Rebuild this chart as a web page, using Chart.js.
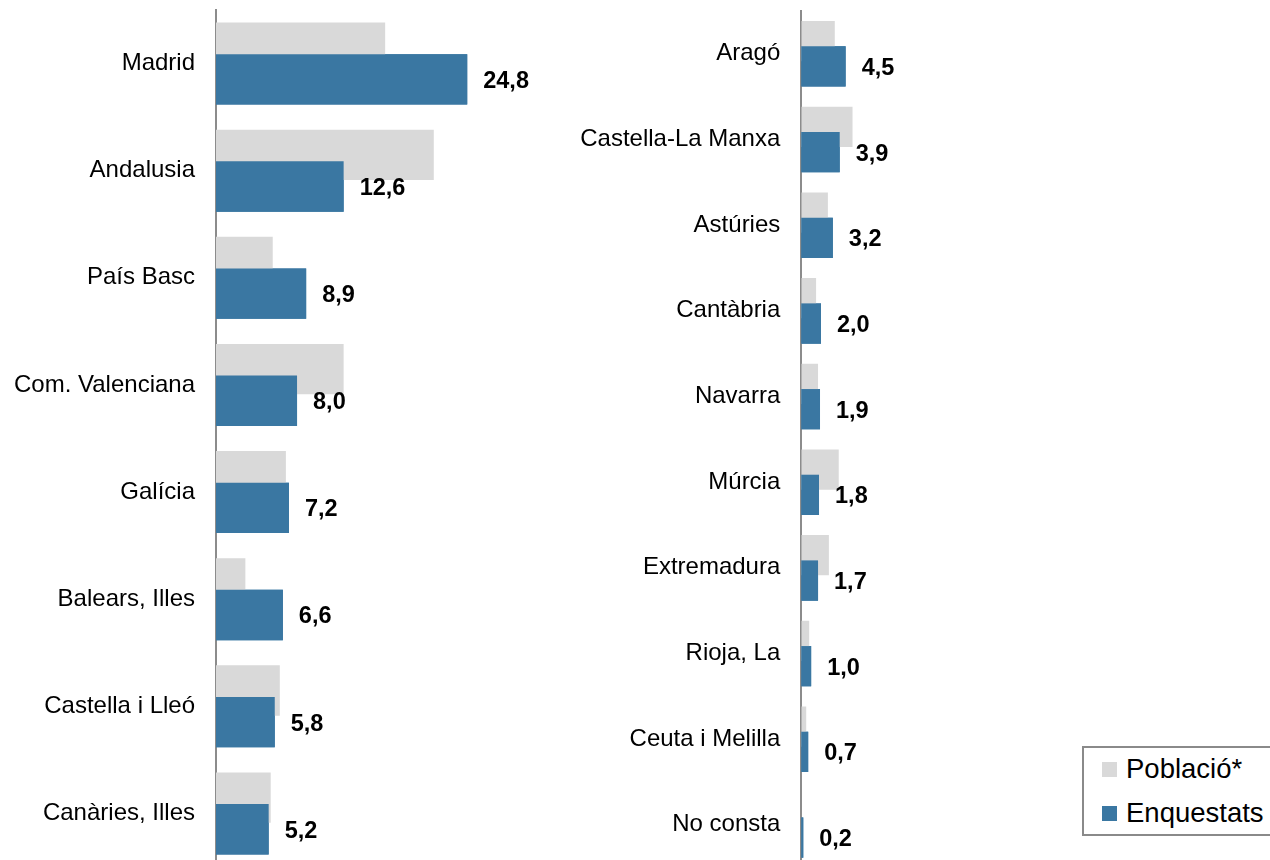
<!DOCTYPE html>
<html>
<head>
<meta charset="utf-8">
<script src="https://cdn.jsdelivr.net/npm/chart.js@4/dist/chart.umd.min.js"></script>
<style>
  html, body { margin: 0; padding: 0; background: #ffffff; }
  body { width: 1270px; height: 860px; overflow: hidden; position: relative; font-family: "Liberation Sans", Arial, sans-serif; }
  .wrap { position: absolute; top: 0; height: 880px; }
  #w1 { left: 0; width: 560px; }
  #w2 { left: 560px; width: 520px; }
  #legend { position: absolute; left: 1082px; top: 746px; width: 220px; height: 90px; border: 2px solid #8a8a8a; box-sizing: border-box; }
  .item { position: absolute; left: 18px; height: 30px; font-size: 27.5px; line-height: 30px; color: #000; white-space: nowrap; }
  .sw { position: absolute; left: 0; top: 8px; width: 15px; height: 15px; }
  .item span.t { position: absolute; left: 24px; top: 0; }
</style>
</head>
<body>
<div class="wrap" id="w1"><canvas id="c1"></canvas></div>
<div class="wrap" id="w2"><canvas id="c2"></canvas></div>
<div id="legend">
  <div class="item" style="top:6px"><div class="sw" style="background:#d9d9d9"></div><span class="t">Població*</span></div>
  <div class="item" style="top:50px"><div class="sw" style="background:#3a77a2"></div><span class="t">Enquestats</span></div>
</div>
<script>
const leftCategories = ["Madrid", "Andalusia", "País Basc", "Com. Valenciana", "Galícia", "Balears, Illes", "Castella i Lleó", "Canàries, Illes"];
const leftPoblacio   = [16.7, 21.5, 5.6, 12.6, 6.9, 2.9, 6.3, 5.4];
const leftEnquestats = [24.8, 12.6, 8.9, 8.0, 7.2, 6.6, 5.8, 5.2];

const rightCategories = ["Aragó", "Castella-La Manxa", "Astúries", "Cantàbria", "Navarra", "Múrcia", "Extremadura", "Rioja, La", "Ceuta i Melilla", "No consta"];
const rightPoblacio   = [3.4, 5.2, 2.7, 1.5, 1.7, 3.8, 2.8, 0.8, 0.5, 0.0];
const rightEnquestats = [4.5, 3.9, 3.2, 2.0, 1.9, 1.8, 1.7, 1.0, 0.7, 0.2];

const seriesNames = ["Població*", "Enquestats"];
const GREY = "#d9d9d9";
const BLUE = "#3a77a2";
const FONT = "'Liberation Sans', Arial, sans-serif";

const frontAndLabels = {
  id: 'frontAndLabels',
  afterDatasetsDraw(chart) {
    const meta = chart.getDatasetMeta(1);
    meta.controller.draw();
    const ctx = chart.ctx;
    ctx.save();
    ctx.font = "bold 23.5px " + FONT;
    ctx.fillStyle = "#000";
    ctx.textAlign = "left";
    ctx.textBaseline = "middle";
    const vals = chart.data.datasets[1].data;
    meta.data.forEach((el, i) => {
      ctx.fillText(vals[i].toFixed(1).replace('.', ','), el.x + 16, el.y + 2);
    });
    ctx.restore();
  }
};

function makeChart(id, cats, pob, enq, axisWidth, xMax, padRight, padTop, padBottom) {
  return new Chart(document.getElementById(id), {
    type: 'bar',
    data: {
      labels: cats,
      datasets: [
        { label: seriesNames[0], data: pob, backgroundColor: GREY, borderWidth: 0 },
        { label: seriesNames[1], data: enq, backgroundColor: BLUE, borderWidth: 0 }
      ]
    },
    options: {
      indexAxis: 'y',
      responsive: true,
      maintainAspectRatio: false,
      animation: false,
      categoryPercentage: 0.591,
      barPercentage: 1.59,
      layout: { padding: { left: 0, right: padRight, top: padTop, bottom: padBottom } },
      plugins: { legend: { display: false }, tooltip: { enabled: false } },
      scales: {
        x: { display: false, min: 0, max: xMax },
        y: {
          grid: { display: false, drawTicks: false },
          border: { display: true, color: '#8c8c8c', width: 2 },
          ticks: { color: '#000', padding: 21, font: { family: FONT, size: 24 } },
          afterFit(scale) {
            scale.width = axisWidth;
            scale.paddingTop = 0;
            scale.paddingBottom = 0;
          }
        }
      }
    },
    plugins: [frontAndLabels]
  });
}

makeChart('c1', leftCategories, leftPoblacio, leftEnquestats, 216, 30, 560 - 216 - 30 * 10.13, 10, 13);
makeChart('c2', rightCategories, rightPoblacio, rightEnquestats, 241.3, 20, 520 - 241.3 - 20 * 9.85, 11, 12.3);
</script>
</body>
</html>
